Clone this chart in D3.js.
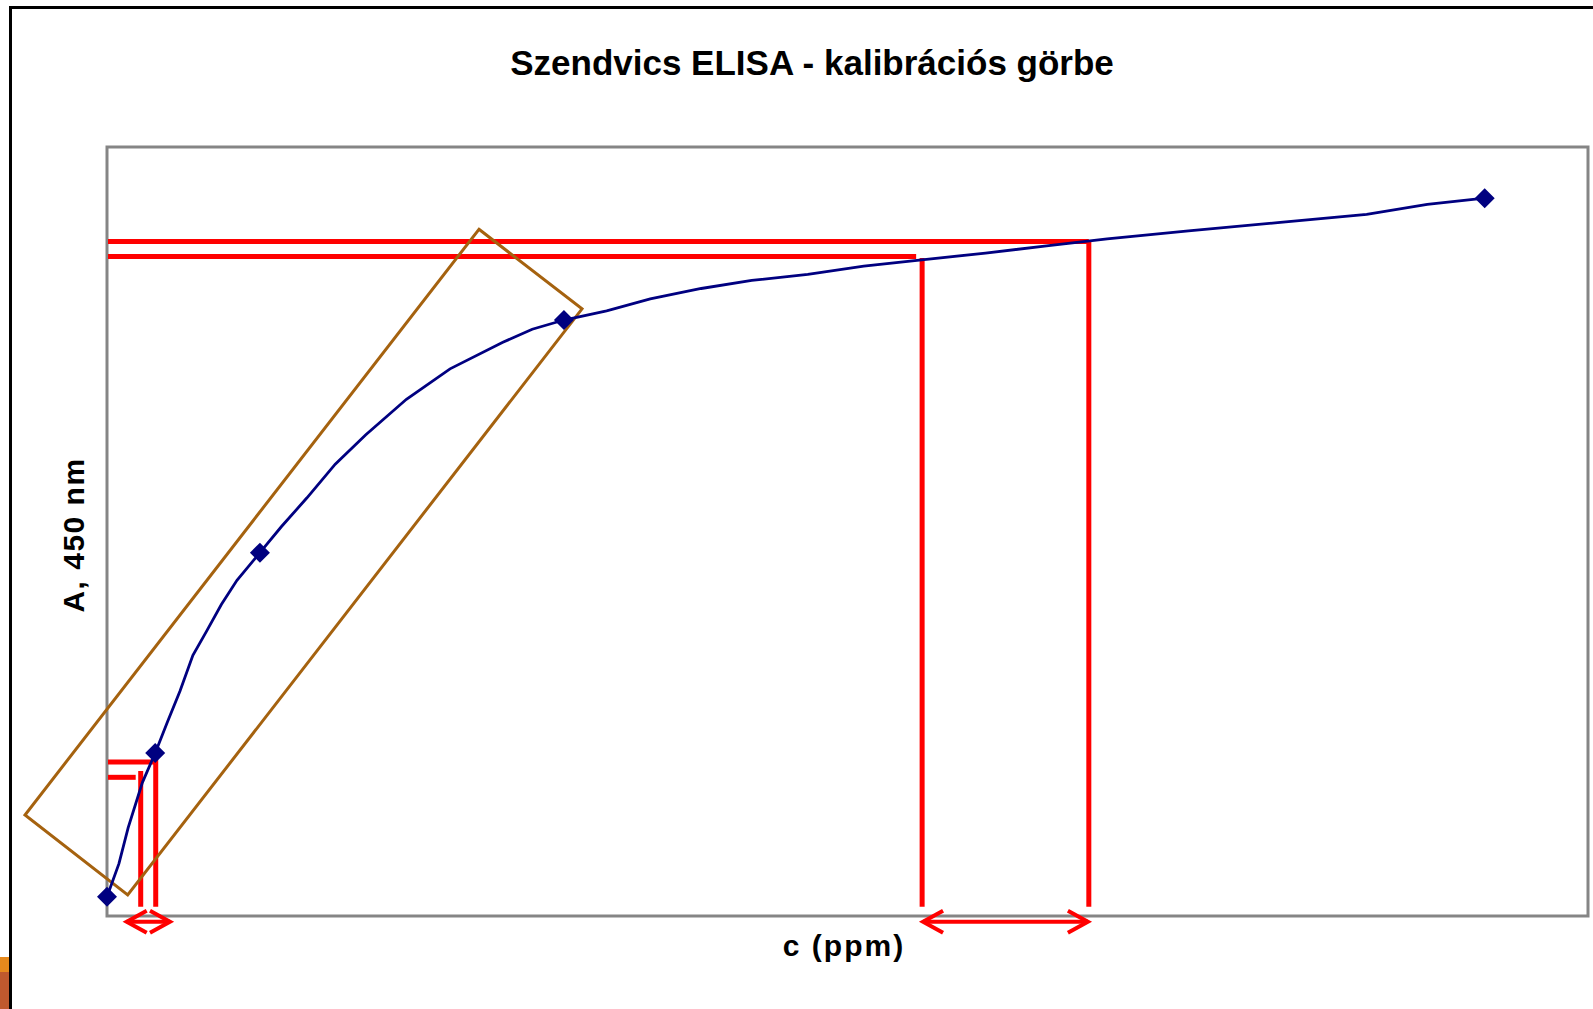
<!DOCTYPE html>
<html>
<head>
<meta charset="utf-8">
<script src="https://cdn.jsdelivr.net/npm/d3@7"></script>
<style>
    body { margin: 0; background: #fff; }
    svg { display: block; font-family: "Liberation Sans", Arial, sans-serif; }
</style>
</head>
<body>
<div id="chart"></div>
<script>
// calibration points (markers)
var stdConc = [0, 1.05, 3.33, 9.95, 30];
var stdAbs = [0.05, 0.424, 0.945, 1.55, 1.867];

// fitted curve
var fitConc = [0, 0.26, 0.46, 0.77, 1.05, 1.32, 1.59, 1.87, 2.16, 2.49, 2.83, 3.33, 3.80, 4.35, 4.97,
    5.63, 6.52, 7.47, 8.62, 9.26, 9.95, 10.88, 11.83, 12.94, 14.04, 15.26, 16.48, 17.69, 19.13,
    20.46, 21.78, 23.55, 25.55, 27.43, 28.75, 30];
var fitAbs = [0.05, 0.136, 0.229, 0.347, 0.424, 0.506, 0.585, 0.678, 0.739, 0.810, 0.873, 0.945, 1.013,
    1.087, 1.175, 1.251, 1.344, 1.423, 1.492, 1.526, 1.550, 1.574, 1.605, 1.632, 1.653, 1.669, 1.690,
    1.706, 1.724, 1.743, 1.761, 1.782, 1.804, 1.825, 1.851, 1.867];

// red read-off lines: absorbance level -> concentration
var readAbs = [1.754, 1.715, 0.4005, 0.3607];
var readEnd = [21.38, 17.62, 1.09, 0.625];
var dropConc = [21.38, 17.75, 1.061, 0.734];
var dropTop = [1.754, 1.711, 0.416, 0.377];
var dropBottom = 0.024;

// concentration ranges (double arrows under the axis)
var rangeFrom = [17.77, 0.429];
var rangeTo = [21.36, 1.372];
var rangeAbs = -0.0148;

// linear-range box corners
var boxConc = [8.10, 10.344, 0.451, -1.786];
var boxAbs = [1.786, 1.579, 0.0546, 0.2627];

var title = "Szendvics ELISA - kalibrációs görbe";
var xLabel = "c (ppm)";
var yLabel = "A, 450 nm";

var width = 1593, height = 1009;
var plot = {left: 107, top: 147, right: 1588, bottom: 916};

var svg = d3.select("#chart").append("svg")
    .attr("width", width)
    .attr("height", height);

var x = d3.scaleLinear().domain([0, 32.25]).range([plot.left, plot.right]);
var y = d3.scaleLinear().domain([0, 2]).range([plot.bottom, plot.top]);

// outer frame + stray slide bits in the corner
svg.append("rect").attr("x", 0).attr("y", 957).attr("width", 10).attr("height", 15).attr("fill", "#e6891d");
svg.append("rect").attr("x", 0).attr("y", 972).attr("width", 10).attr("height", 37).attr("fill", "#bf592e");
svg.append("path")
    .attr("d", "M10.5," + height + "V7.5H" + width)
    .attr("fill", "none")
    .attr("stroke", "#000")
    .attr("stroke-width", 3);

// plot area
svg.append("rect")
    .attr("x", plot.left)
    .attr("y", plot.top)
    .attr("width", plot.right - plot.left)
    .attr("height", plot.bottom - plot.top)
    .attr("fill", "none")
    .attr("stroke", "#858585")
    .attr("stroke-width", 3);

// texts
svg.append("text")
    .attr("x", 812)
    .attr("y", 75)
    .attr("text-anchor", "middle")
    .style("font-size", "35px")
    .style("font-weight", "bold")
    .text(title);

svg.append("text")
    .attr("x", 844)
    .attr("y", 956)
    .attr("text-anchor", "middle")
    .style("font-size", "30px")
    .style("font-weight", "bold")
    .style("letter-spacing", "2px")
    .text(xLabel);

svg.append("text")
    .attr("transform", "translate(84,535) rotate(-90)")
    .attr("text-anchor", "middle")
    .style("font-size", "30px")
    .style("font-weight", "bold")
    .style("letter-spacing", "1.5px")
    .text(yLabel);

// red read-off lines
var red = svg.append("g")
    .attr("stroke", "#ff0000")
    .attr("stroke-width", 5)
    .attr("fill", "none");

readAbs.forEach(function (a, i) {
    red.append("line")
        .attr("x1", x(0) + 1).attr("x2", x(readEnd[i]))
        .attr("y1", y(a)).attr("y2", y(a));
    red.append("line")
        .attr("x1", x(dropConc[i])).attr("x2", x(dropConc[i]))
        .attr("y1", y(dropTop[i])).attr("y2", y(dropBottom));
});

// double arrows
var head = 20, spread = 11;
rangeFrom.forEach(function (c, i) {
    var x1 = x(c), x2 = x(rangeTo[i]), yy = y(rangeAbs);
    red.append("line").attr("x1", x1).attr("x2", x2).attr("y1", yy).attr("y2", yy).attr("stroke-width", 4);
    red.append("path")
        .attr("stroke-width", 4)
        .attr("d", "M" + (x1 + head) + "," + (yy - spread) + "L" + x1 + "," + yy + "L" + (x1 + head) + "," + (yy + spread)
            + "M" + (x2 - head) + "," + (yy - spread) + "L" + x2 + "," + yy + "L" + (x2 - head) + "," + (yy + spread));
});

// linear range box
svg.append("polygon")
    .attr("points", boxConc.map(function (c, i) {
        return x(c) + "," + y(boxAbs[i]);
    }).join(" "))
    .attr("fill", "none")
    .attr("stroke", "#a5620f")
    .attr("stroke-width", 3);

// fitted curve
var line = d3.line()
    .x(function (d) { return x(d[0]); })
    .y(function (d) { return y(d[1]); });

svg.append("path")
    .datum(d3.zip(fitConc, fitAbs))
    .attr("d", line)
    .attr("fill", "none")
    .attr("stroke", "#000080")
    .attr("stroke-width", 2.8);

// markers
svg.selectAll(".pt")
    .data(d3.zip(stdConc, stdAbs))
    .enter()
    .append("path")
    .attr("class", "pt")
    .attr("d", d3.symbol().type(d3.symbolSquare).size(200))
    .attr("transform", function (d) {
        return "translate(" + x(d[0]) + "," + y(d[1]) + ") rotate(45)";
    })
    .attr("fill", "#000080");
</script>
</body>
</html>
